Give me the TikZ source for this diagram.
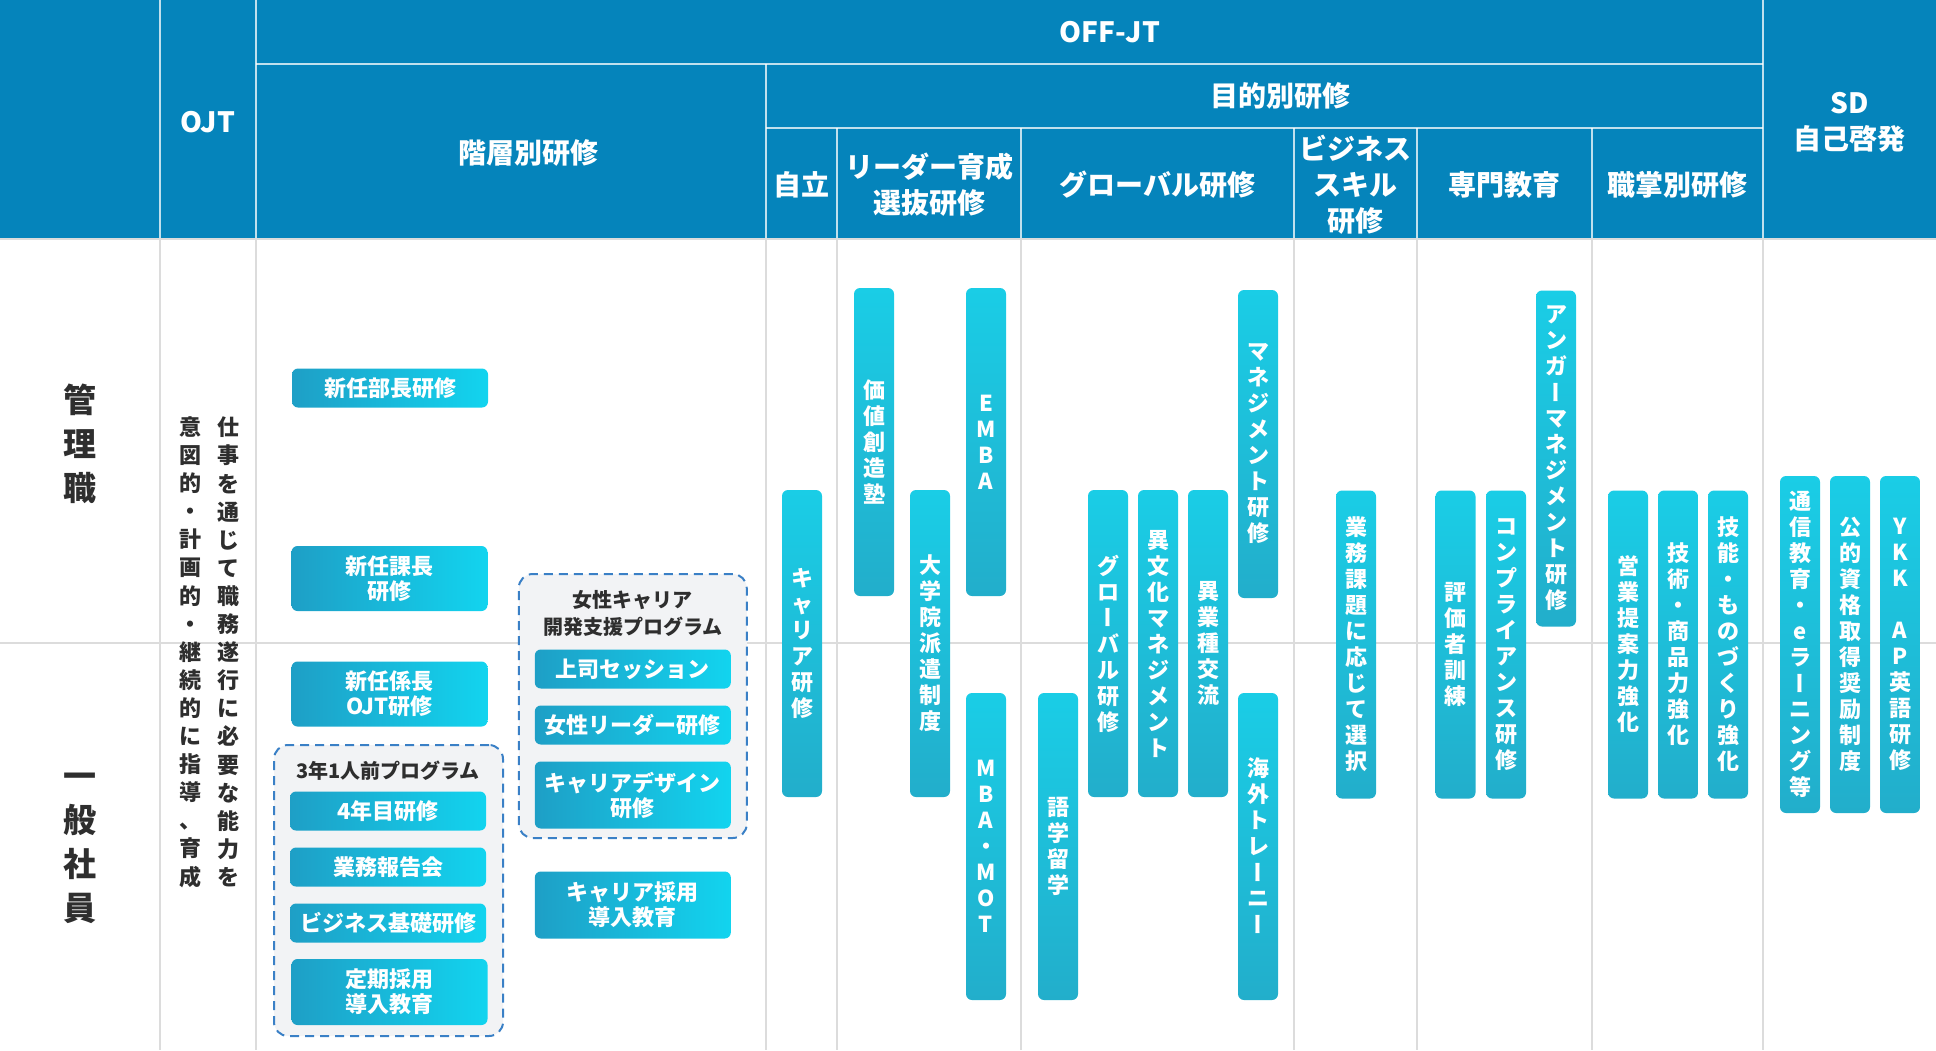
\documentclass[tikz,border=0pt]{standalone}
\usepackage{fontspec}
\setmainfont{Noto Sans CJK JP}
\usepackage{graphicx}

\definecolor{hdblue}{HTML}{0584BB}
\definecolor{ink}{HTML}{2E2E2E}
\definecolor{rulegray}{HTML}{DCDCDC}
\definecolor{boxL}{HTML}{1E9FC6}
\definecolor{boxR}{HTML}{12D4EF}
\definecolor{barT}{HTML}{1ACDE6}
\definecolor{barB}{HTML}{22AECB}
\definecolor{grpline}{HTML}{3A80C6}
\definecolor{grpfill}{HTML}{F2F3F5}

% vertical (tategaki) text: one character per line
\newcommand\vtxt[2][26pt]{\vbox{\baselineskip=#1\lineskiplimit=-100pt\lineskip=0pt\vtnext#2\relax}}
\def\vtnext#1{\ifx\relax#1\else\vtcell{#1}\expandafter\vtnext\fi}
\def\vtcell#1{\hbox to 1.1em{\hss\vtglyph{#1}\hss}}
\def\vtglyph#1{\ifx ー#1\rotatebox[origin=c]{-90}{\vphantom{あ}ー}\else#1\fi}
\def\vgap{}

\tikzset{
  hd/.style={text=white, font=\fontsize{28}{36}\selectfont\bfseries, align=center},
  hdline/.style={draw=white, draw opacity=.75, line width=2pt},
  rule/.style={draw=rulegray, line width=2pt},
  lbl/.style={text=ink, font=\fontsize{33}{44}\selectfont\bfseries, inner sep=0pt},
  ojt/.style={text=ink, font=\fontsize{22}{28}\selectfont\bfseries, inner sep=0pt},
  hbox/.style={rounded corners=6pt, left color=boxL, right color=boxR, text=white,
    font=\fontsize{22}{25}\selectfont\bfseries, align=center,
    minimum width=196, inner sep=0pt},
  vbar/.style={rounded corners=6pt, top color=barT, bottom color=barB, text=white,
    font=\fontsize{22}{26}\selectfont\bfseries, minimum width=40, inner sep=0pt},
  grp/.style={draw=grpline, line width=2pt, dash pattern=on 9pt off 6pt,
    fill=grpfill, rounded corners=14pt, inner sep=0pt},
  ttl/.style={text=ink, font=\fontsize{20}{27}\selectfont\bfseries, align=center}
}

\begin{document}
\begin{tikzpicture}[x=1pt,y=-1pt]
\useasboundingbox (0,0) rectangle (1936,1050);

% header band
\fill[hdblue] (0,0) rectangle (1936,238);
\draw[hdline] (160,0) -- (160,238);
\draw[hdline] (256,0) -- (256,238);
\draw[hdline] (1763,0) -- (1763,238);
\draw[hdline] (256,64) -- (1763,64);
\draw[hdline] (766,64) -- (766,238);
\draw[hdline] (766,128) -- (1763,128);
\draw[hdline] (837,128) -- (837,238);
\draw[hdline] (1021,128) -- (1021,238);
\draw[hdline] (1294,128) -- (1294,238);
\draw[hdline] (1417,128) -- (1417,238);
\draw[hdline] (1592,128) -- (1592,238);

% body rules
\draw[rule] (0,239) -- (1936,239);
\draw[rule] (160,238) -- (160,1050);
\draw[rule] (256,238) -- (256,1050);
\draw[rule] (766,238) -- (766,1050);
\draw[rule] (837,238) -- (837,1050);
\draw[rule] (1021,238) -- (1021,1050);
\draw[rule] (1294,238) -- (1294,1050);
\draw[rule] (1417,238) -- (1417,1050);
\draw[rule] (1592,238) -- (1592,1050);
\draw[rule] (1763,238) -- (1763,1050);
\draw[rule] (0,643) -- (1936,643);

% header labels
\node[hd] (hojt) at (208,122) {OJT};
\node[hd] (hoff) at (1110,32) {OFF-JT};
\node[hd] (hkaiso) at (528,153) {階層別研修};
\node[hd] (hmokuteki) at (1280,96) {目的別研修};
\node[hd] (hjiritsu) at (801.5,185) {自立};
\node[hd] (hleader) at (929,185) {リーダー育成\\選抜研修};
\node[hd] (hglobal) at (1157.5,185) {グローバル研修};
\node[hd] (hbiz) at (1355.5,185) {ビジネス\\スキル\\研修};
\node[hd] (hsenmon) at (1504.5,185) {専門教育};
\node[hd] (hshoku) at (1677.5,185) {職掌別研修};
\node[hd] (hsd) at (1849.5,122) {SD\\自己啓発};

% row labels
\node[lbl] (kanri) at (80,444) {\vtxt[44pt]{管理職}};
\node[lbl] (ippan) at (80,848) {\vtxt[44pt]{一般社員}};

% OJT
\node[ojt] (ojtA) at (228,652) {\vtxt[28.1pt]{仕事を通じて職務遂行に必要な能力を}};
\node[ojt] (ojtB) at (190,652) {\vtxt[28.1pt]{意図的・計画的・継続的に指導、育成}};

% kaiso-betsu
\node[hbox, minimum height=39] (bucho) at (390,388) {新任部長研修};
\node[hbox, minimum height=65] (kacho) at (389.5,578.5) {新任課長\\研修};
\node[hbox, minimum height=65] (kakari) at (389.5,694) {新任係長\\OJT研修};

\node[grp, minimum width=229, minimum height=291] (sannen) at (388.5,890.5) {};
\node[ttl] (tsannen) at (388,770.5) {3年1人前プログラム};
\node[hbox, minimum height=39] (yonen) at (388,811) {4年目研修};
\node[hbox, minimum height=39] (hokoku) at (388,867) {業務報告会};
\node[hbox, minimum height=39] (kiso) at (388,923) {ビジネス基礎研修};
\node[hbox, minimum height=66] (teiki) at (389.5,992) {定期採用\\導入教育};

\node[grp, minimum width=228, minimum height=264] (josei) at (632.75,706) {};
\node[ttl] (tjosei) at (632.75,613.5) {女性キャリア\\開発支援プログラム};
\node[hbox, minimum height=39] (joshi) at (632.8,669) {上司セッション};
\node[hbox, minimum height=39] (wleader) at (632.8,725) {女性リーダー研修};
\node[hbox, minimum height=67] (design) at (632.8,795) {キャリアデザイン\\研修};
\node[hbox, minimum height=67] (cadopt) at (632.8,905) {キャリア採用\\導入教育};

% mokuteki-betsu
\node[vbar, minimum height=307] (kyaria) at (802,643.5) {\vtxt{キャリア研修}};
\node[vbar, minimum height=308] (kachi) at (874,442) {\vtxt{価値創造塾}};
\node[vbar, minimum height=307] (daigaku) at (930,643.5) {\vtxt{大学院派遣制度}};
\node[vbar, minimum height=308] (emba) at (986,442) {\vtxt{EMBA}};
\node[vbar, minimum height=307] (mbamot) at (986,846.5) {\vtxt{MBA・MOT}};
\node[vbar, minimum height=307] (gogaku) at (1058,846.5) {\vtxt{語学留学}};
\node[vbar, minimum height=307] (glob) at (1108,643.5) {\vtxt{グローバル研修}};
\node[vbar, minimum height=307] (ibunka) at (1158,643.5) {\vtxt{異文化マネジメント}};
\node[vbar, minimum height=307] (igyo) at (1208,643.5) {\vtxt{異業種交流}};
\node[vbar, minimum height=308] (manage) at (1258,444) {\vtxt{マネジメント研修}};
\node[vbar, minimum height=307] (kaigai) at (1258,846.5) {\vtxt{海外トレーニー}};
\node[vbar, minimum height=308] (gyomu) at (1356,644.5) {\vtxt{業務課題に応じて選択}};
\node[vbar, minimum height=308] (hyoka) at (1455.5,644.5) {\vtxt{評価者訓練}};
\node[vbar, minimum height=308] (comp) at (1506,644.5) {\vtxt{コンプライアンス研修}};
\node[vbar, minimum height=336] (anger) at (1556,458.5) {\vtxt{アンガーマネジメント研修}};
\node[vbar, minimum height=308] (eigyo) at (1628,644.5) {\vtxt{営業提案力強化}};
\node[vbar, minimum height=308] (gijutsu) at (1678,644.5) {\vtxt{技術・商品力強化}};
\node[vbar, minimum height=308] (gino) at (1728,644.5) {\vtxt{技能・ものづくり強化}};

% SD
\node[vbar, minimum height=337] (tsushin) at (1800,644.5) {\vtxt{通信教育・eラーニング等}};
\node[vbar, minimum height=337] (koteki) at (1850,644.5) {\vtxt{公的資格取得奨励制度}};
\node[vbar, minimum height=337] (eigo) at (1900,644.5) {\vtxt{YKK\vgap AP英語研修}};
\end{tikzpicture}
\end{document}
